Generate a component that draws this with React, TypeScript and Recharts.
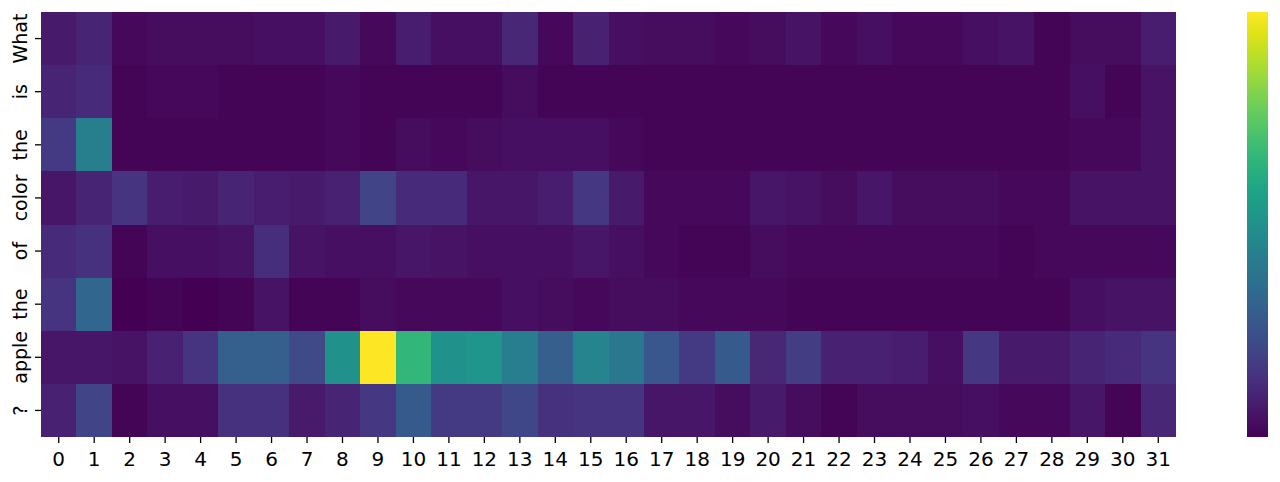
import { ScatterChart, Scatter, XAxis, YAxis } from "recharts";

// token labels (rows, top to bottom) and head/position indices (columns)
const tokens = ["What", "is", "the", "color", "of", "the", "apple", "?"];
const positions = Array.from({ length: 32 }, (_, i) => i);

// attention weights per token row (0..1)
const attnWhat = [0.07, 0.1, 0.02, 0.03, 0.03, 0.03, 0.04, 0.04, 0.07, 0.02, 0.08, 0.04, 0.04, 0.11, 0.02, 0.09, 0.04, 0.03, 0.03, 0.02, 0.03, 0.05, 0.02, 0.04, 0.02, 0.02, 0.04, 0.05, 0.01, 0.03, 0.03, 0.08];
const attnIs = [0.1, 0.12, 0.01, 0.02, 0.02, 0.01, 0.01, 0.01, 0.02, 0.01, 0.01, 0.01, 0.01, 0.03, 0.01, 0.01, 0.01, 0.01, 0.01, 0.01, 0.01, 0.01, 0.01, 0.01, 0.01, 0.01, 0.01, 0.01, 0.01, 0.04, 0.01, 0.05];
const attnThe1 = [0.17, 0.43, 0.01, 0.01, 0.01, 0.01, 0.01, 0.01, 0.02, 0.01, 0.03, 0.02, 0.03, 0.04, 0.04, 0.04, 0.02, 0.01, 0.01, 0.01, 0.01, 0.01, 0.01, 0.01, 0.01, 0.01, 0.01, 0.01, 0.01, 0.02, 0.02, 0.05];
const attnColor = [0.06, 0.1, 0.15, 0.08, 0.07, 0.1, 0.08, 0.07, 0.09, 0.2, 0.12, 0.12, 0.06, 0.06, 0.08, 0.16, 0.07, 0.02, 0.02, 0.02, 0.06, 0.05, 0.03, 0.06, 0.03, 0.03, 0.03, 0.02, 0.02, 0.05, 0.05, 0.05];
const attnOf = [0.12, 0.14, 0.01, 0.04, 0.04, 0.05, 0.13, 0.05, 0.04, 0.04, 0.06, 0.05, 0.04, 0.04, 0.04, 0.06, 0.04, 0.02, 0.01, 0.01, 0.03, 0.02, 0.02, 0.02, 0.02, 0.02, 0.02, 0.01, 0.02, 0.02, 0.02, 0.02];
const attnThe2 = [0.15, 0.33, 0.0, 0.01, 0.0, 0.01, 0.05, 0.01, 0.01, 0.03, 0.02, 0.02, 0.02, 0.04, 0.03, 0.02, 0.03, 0.03, 0.02, 0.02, 0.02, 0.01, 0.01, 0.01, 0.01, 0.01, 0.01, 0.01, 0.01, 0.04, 0.05, 0.05];
const attnApple = [0.06, 0.06, 0.05, 0.09, 0.15, 0.3, 0.3, 0.22, 0.5, 1.0, 0.66, 0.5, 0.52, 0.42, 0.3, 0.45, 0.4, 0.27, 0.17, 0.28, 0.11, 0.18, 0.09, 0.09, 0.08, 0.04, 0.16, 0.07, 0.07, 0.1, 0.12, 0.15];
const attnQ = [0.09, 0.2, 0.01, 0.04, 0.04, 0.14, 0.14, 0.07, 0.1, 0.16, 0.28, 0.17, 0.17, 0.21, 0.14, 0.15, 0.15, 0.06, 0.06, 0.03, 0.07, 0.03, 0.01, 0.03, 0.03, 0.03, 0.04, 0.02, 0.02, 0.06, 0.01, 0.11];

const rows = [attnWhat, attnIs, attnThe1, attnColor, attnOf, attnThe2, attnApple, attnQ];

// viridis lookup
const VIRIDIS = [
  "#440154", "#471365", "#482475", "#463480", "#414487", "#3b528b", "#355f8d",
  "#2f6c8e", "#2a788e", "#25848e", "#21918c", "#1e9c89", "#22a884", "#2fb47c",
  "#44bf70", "#5ec962", "#7ad151", "#9bd93c", "#bddf26", "#dfe318", "#fde725",
];

const hex = (h: string) => [1, 3, 5].map((i) => parseInt(h.slice(i, i + 2), 16));

function viridis(t: number) {
  const v = Math.max(0, Math.min(1, t)) * (VIRIDIS.length - 1);
  const i = Math.min(Math.floor(v), VIRIDIS.length - 2);
  const f = v - i;
  const a = hex(VIRIDIS[i]);
  const b = hex(VIRIDIS[i + 1]);
  const c = a.map((x, k) => Math.round(x + (b[k] - x) * f));
  return `rgb(${c[0]},${c[1]},${c[2]})`;
}

const W = 1280;
const H = 482;
const PLOT_L = 41;
const PLOT_R = 1176;
const PLOT_T = 12;
const PLOT_B = 437;
const cellW = (PLOT_R - PLOT_L) / positions.length;
const cellH = (PLOT_B - PLOT_T) / tokens.length;

const allVals = rows.flat();
const vmin = Math.min(...allVals);
const vmax = Math.max(...allVals);

const cells = rows.flatMap((r, y) => r.map((v, x) => ({ x, y, v })));

const FONT = "'DejaVu Sans', sans-serif";

function Cell(props: any) {
  const { cx, cy, payload } = props;
  return (
    <rect
      x={cx - cellW / 2}
      y={cy - cellH / 2}
      width={cellW + 0.6}
      height={cellH + 0.6}
      fill={viridis((payload.v - vmin) / (vmax - vmin))}
      shapeRendering="crispEdges"
    />
  );
}

function TokenTick(props: any) {
  const { x, y, payload } = props;
  return (
    <text
      transform={`translate(${x - 6}, ${y}) rotate(-90)`}
      textAnchor="middle"
      style={{ fontSize: "19px", fontFamily: FONT }}
      fill="#000"
    >
      {tokens[payload.value]}
    </text>
  );
}

function PosTick(props: any) {
  const { x, y, payload } = props;
  return (
    <text x={x} y={y + 21} textAnchor="middle" style={{ fontSize: "20px", fontFamily: FONT }} fill="#000">
      {payload.value}
    </text>
  );
}

export default function App() {
  return (
    <div style={{ position: "fixed", left: 0, top: 0, width: W, height: H, background: "#fff" }}>
      <ScatterChart
        width={W}
        height={H}
        margin={{ top: PLOT_T, right: W - PLOT_R, bottom: 0, left: 0 }}
      >
        <XAxis
          type="number"
          dataKey="x"
          domain={[-0.5, positions.length - 0.5]}
          ticks={positions}
          interval={0}
          allowDataOverflow
          height={H - PLOT_B}
          axisLine={false}
          tickLine={{ stroke: "#000", strokeWidth: 1.3 }}
          tickSize={6}
          tickMargin={2}
          tick={<PosTick />}
        />
        <YAxis
          type="number"
          dataKey="y"
          domain={[-0.5, tokens.length - 0.5]}
          ticks={tokens.map((_, i) => i)}
          interval={0}
          reversed
          allowDataOverflow
          width={PLOT_L}
          axisLine={false}
          tickLine={{ stroke: "#000", strokeWidth: 1.3 }}
          tickSize={6}
          tickMargin={2}
          tick={<TokenTick />}
        />
        <Scatter data={cells} shape={<Cell />} isAnimationActive={false} />
      </ScatterChart>
      <div
        style={{
          position: "absolute",
          left: 1247,
          top: PLOT_T,
          width: 21,
          height: PLOT_B - PLOT_T,
          background: `linear-gradient(to top, ${VIRIDIS.join(", ")})`,
        }}
      />
    </div>
  );
}
